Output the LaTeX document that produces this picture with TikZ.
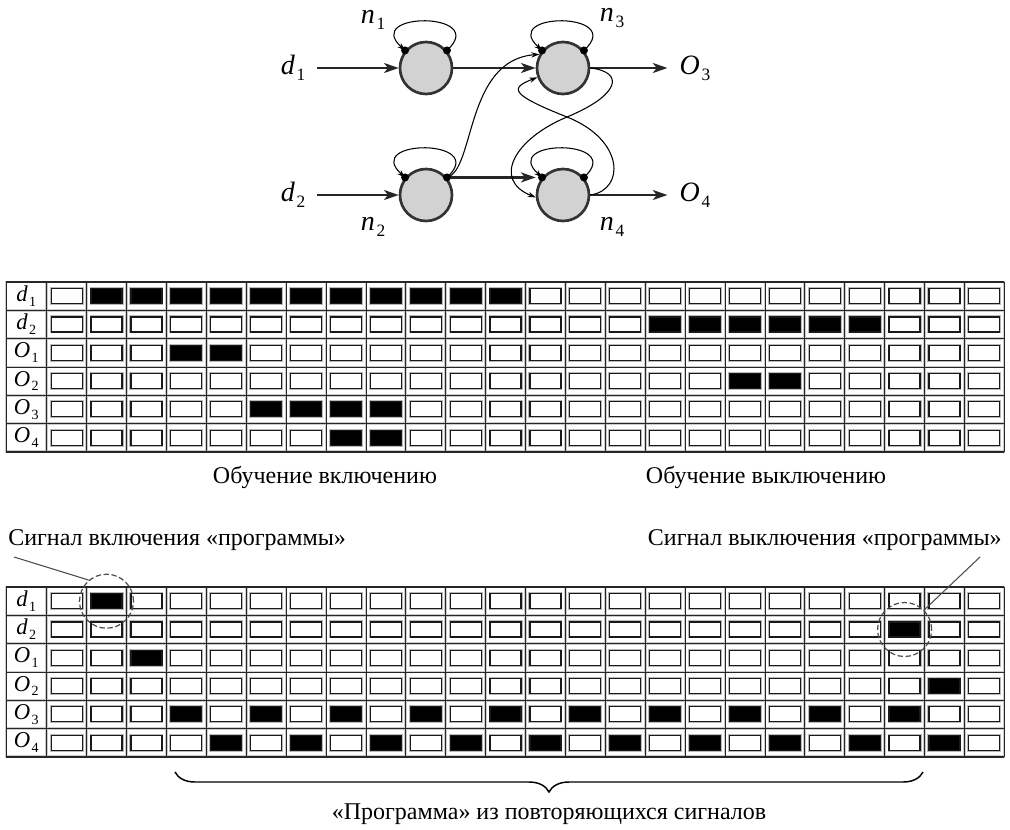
\documentclass[tikz,border=0pt]{standalone}
\usepackage{fontspec}
\setmainfont{Liberation Serif}
\usepackage{graphicx}
\usepackage{tikz}
\usetikzlibrary{positioning, arrows.meta, decorations.pathreplacing}

% letter with a lowered upright index
\newcommand{\sig}[2]{\textit{#1}\raisebox{-0.45ex}{\kern0.06em\scalebox{0.62}{#2}}}

% one signal table: #1 = top edge, #2 = row/letter/index/lit cells
\newcommand{\signalgrid}[2]{%
  \fill[white] (6,#1) rectangle (1004,#1+169.8);
  \foreach \sty in {gridhalo, gridline} {
    \foreach \r in {1,...,5} \draw[\sty] (6,#1+\r*28.3) -- (1004,#1+\r*28.3);
    \foreach \c in {0,...,23} \draw[\sty] (46.7+\c*39.9,#1) -- (46.7+\c*39.9,#1+169.8);
    \draw[\sty] (6,#1) rectangle (1004,#1+169.8);
  }
  \draw[edgeline] (6,#1) -- (1004,#1);
  \draw[edgeline] (6,#1+169.8) -- (1004,#1+169.8);
  \foreach \r/\nm/\ix/\on in {#2} {
    \node[rowlabel] at (26.3,#1+\r*28.3+14.15) {\sig{\nm}{\ix}};
    \foreach \c in {1,...,24}
      \draw[lamp] (46.7+\c*39.9-35.45,#1+\r*28.3+6.65) rectangle ++(31,15);
    \foreach \c in \on
      \draw[lamp, fill=black] (46.7+\c*39.9-35.45,#1+\r*28.3+6.65) rectangle ++(31,15);
  }
}

\begin{document}
\begin{tikzpicture}[x=0.75pt, y=-0.75pt, on grid,
  neuron/.style={circle, draw=black!80, line width=2pt, fill=gray!35, minimum size=39pt, inner sep=0pt},
  netlabel/.style={font=\fontsize{21}{24}\selectfont, inner xsep=9pt, inner ysep=0pt},
  caption/.style={font=\fontsize{18}{21}\selectfont, inner sep=0pt},
  rowlabel/.style={font=\fontsize{17}{20}\selectfont, inner sep=0pt},
  bigarrow/.style={-{Stealth[length=11pt, width=7.5pt, inset=3pt]}, line width=1.6pt, draw=black!85},
  thinarrow/.style={-{Stealth[length=6pt, width=4pt]}, line width=0.8pt},
  dot/.style={fill=black},
  gridhalo/.style={draw=gray!40, line width=2pt},
  gridline/.style={draw=black!85, line width=0.6pt},
  edgeline/.style={draw=black!85, line width=1.1pt},
  lamp/.style={preaction={draw=gray!55, line width=2.3pt}, draw=black!90, line width=0.9pt, fill=white},
  markring/.style={circle, draw=black!70, dash pattern=on 4pt off 2pt, line width=0.9pt, minimum size=40.5pt, inner sep=0pt},
  leader/.style={draw=black!70, line width=0.8pt},
  progbrace/.style={decorate, decoration={brace, mirror, amplitude=15pt}, line width=1.1pt}
]
    \useasboundingbox (0,0) rectangle (1010,829);

    % network
    \node[neuron] (n1) at (426,68) {};
    \node[neuron, below=95.25pt of n1] (n2) {};
    \node[neuron, right=102.75pt of n1] (n3) {};
    \node[neuron, right=102.75pt of n2] (n4) {};

    \node[netlabel, left=99.75pt of n1] (d1) {\sig{d}{1}};
    \node[netlabel, left=99.75pt of n2] (d2) {\sig{d}{2}};
    \node[netlabel, right=99pt of n3] (o3) {\sig{O}{3}};
    \node[netlabel, right=99pt of n4] (o4) {\sig{O}{4}};
    \node[netlabel, above left=36pt and 39.75pt of n1] (l1) {\sig{n}{1}};
    \node[netlabel, below left=24pt and 39.75pt of n2] (l2) {\sig{n}{2}};
    \node[netlabel, above right=37.5pt and 36.75pt of n3] (l3) {\sig{n}{3}};
    \node[netlabel, below right=24pt and 36.75pt of n4] (l4) {\sig{n}{4}};

    \draw[bigarrow] (d1) -- (n1);
    \draw[bigarrow] (d2) -- (n2);
    \draw[bigarrow] (n1) -- (n3);
    \draw[bigarrow] (n3) -- (o3);
    \draw[bigarrow] (n4) -- (o4);
    \draw[bigarrow] (n2.40) -- (n2.40 -| n4.west);

    \foreach \n in {n1, n2, n3, n4}
      \draw[thinarrow] (\n.40) .. controls +(43,-39) and +(-43,-39) .. (\n.140);

    \coordinate (cross) at (567,117);
    \draw[thinarrow] (n2.40) .. controls (475,170) and (465,60) .. (n3.150);
    \draw[thinarrow] (n3.east) .. controls (625,72) and (620,95) .. (cross) .. controls (514,139) and (492,180) .. (n4.185);
    \draw[thinarrow] (n4.east) .. controls (625,190) and (625,140) .. (cross) .. controls (509,94) and (510,88) .. (n3.200);

    \foreach \n in {n1, n2, n3, n4} {
      \fill[dot] (\n.40) circle[radius=4];
      \fill[dot] (\n.140) circle[radius=4];
    }

    % learning
    \signalgrid{282}{0/d/1/{2,...,12}, 1/d/2/{16,...,21}, 2/O/1/{4,5}, 3/O/2/{18,19}, 4/O/3/{6,...,9}, 5/O/4/{8,9}}
    \node[caption] (teachon) at (325,477) {Обучение включению};
    \node[caption] (teachoff) at (766,477) {Обучение выключению};

    % running the program
    \node[caption, anchor=west] (onsignal) at (8,540) {Сигнал включения «программы»};
    \node[caption, anchor=east] (offsignal) at (1002,540) {Сигнал выключения «программы»};
    \signalgrid{587}{0/d/1/{2}, 1/d/2/{22}, 2/O/1/{3}, 3/O/2/{23}, 4/O/3/{4,6,...,22}, 5/O/4/{5,7,...,23}}

    \node[markring] (onmark) at (106.5,601.2) {};
    \node[markring] (offmark) at (904.6,629.5) {};
    \coordinate (onlead) at (14,557);
    \coordinate (offlead) at (980,557);
    \draw[leader] (onlead) -- (onmark.130);
    \draw[leader] (offlead) -- (offmark.45);

    \coordinate (progstart) at (175,772);
    \coordinate (progend) at (923,772);
    \draw[progbrace] (progstart) -- (progend);
    \node[caption] (program) at (549,814) {«Программа» из повторяющихся сигналов};
\end{tikzpicture}
\end{document}
